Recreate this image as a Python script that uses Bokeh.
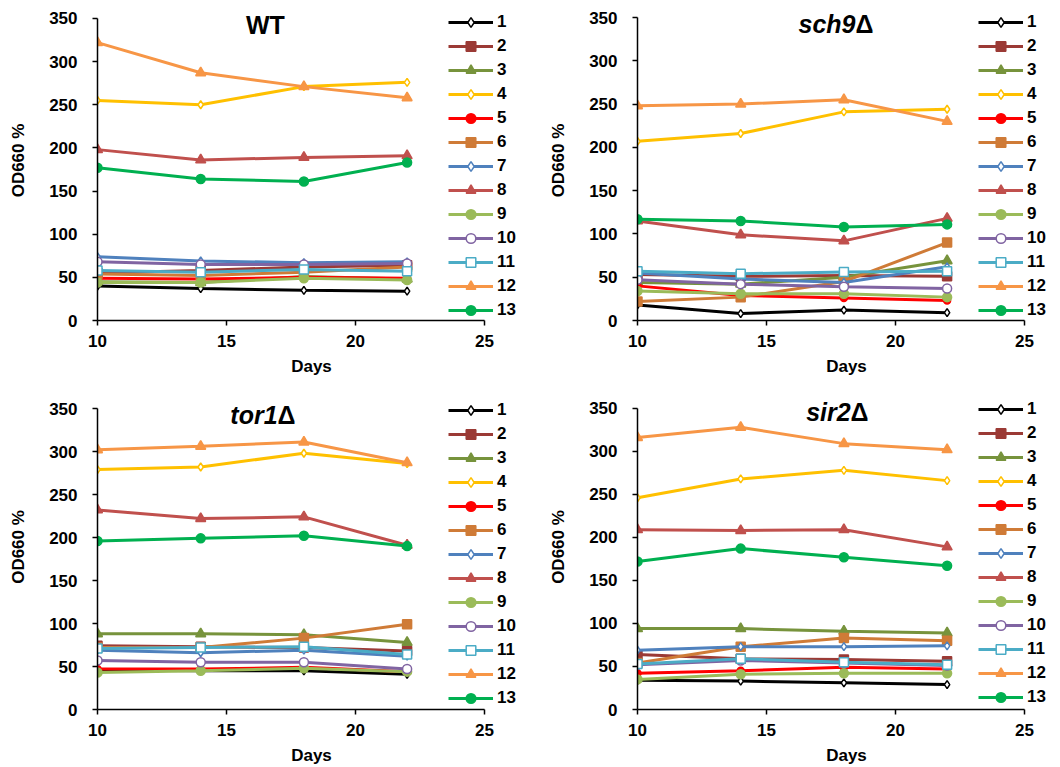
from bokeh.plotting import figure
from bokeh.layouts import column, row
from bokeh.models import Legend, LegendItem, Label, FixedTicker
from bokeh.embed import file_html
from bokeh.resources import INLINE

# Sampling days (x) and strain labels (legend)
days = [10, 14, 18, 22]
strain_labels = ["1", "2", "3", "4", "5", "6", "7", "8", "9", "10", "11", "12", "13"]

# OD660 % per strain (rows follow strain_labels), one table per background
wt = [
    [40, 37, 35, 34],
    [55, 58, 62, 64],
    [45, 44, 51, 48],
    [255, 250, 271, 276],
    [49, 48, 50, 49],
    [54, 52, 56, 62],
    [74, 69, 67, 68],
    [198, 186, 189, 191],
    [44, 44, 49, 47],
    [68, 65, 65, 66],
    [58, 56, 59, 57],
    [322, 287, 271, 258],
    [177, 164, 161, 183],
]
sch9 = [
    [18, 8, 12, 9],
    [53, 51, 52, 51],
    [44, 42, 50, 69],
    [207, 216, 241, 244],
    [40, 29, 26, 23],
    [22, 27, 45, 90],
    [55, 48, 44, 62],
    [115, 99, 92, 118],
    [34, 31, 31, 27],
    [47, 42, 39, 37],
    [57, 54, 56, 57],
    [248, 250, 255, 230],
    [117, 115, 108, 111],
]
tor1 = [
    [46, 45, 45, 41],
    [74, 73, 72, 68],
    [88, 88, 87, 78],
    [279, 282, 298, 286],
    [47, 47, 49, 44],
    [72, 72, 83, 99],
    [69, 66, 69, 62],
    [232, 222, 224, 191],
    [43, 45, 48, 44],
    [57, 55, 55, 47],
    [71, 72, 73, 64],
    [302, 306, 311, 287],
    [196, 199, 202, 190],
]
sir2 = [
    [34, 33, 31, 29],
    [64, 59, 58, 56],
    [94, 94, 91, 89],
    [246, 268, 278, 266],
    [42, 45, 49, 47],
    [54, 73, 83, 80],
    [69, 73, 73, 74],
    [209, 208, 209, 189],
    [35, 41, 42, 42],
    [52, 57, 54, 51],
    [53, 59, 55, 52],
    [316, 328, 309, 302],
    [172, 187, 177, 167],
]

y_ticks = [0, 50, 100, 150, 200, 250, 300, 350]
x_ticks = [10, 15, 20, 25]

# Per-strain line colour, marker, fill and marker size
colors = ["#000000", "#9B3A35", "#77933C", "#FFC000", "#FF0000", "#CF7B37",
          "#4F81BD", "#C0504D", "#9BBB59", "#8064A2", "#4BACC6", "#F79646", "#00B050"]
markers = ["diamond", "square", "triangle", "diamond", "circle", "square",
           "diamond", "triangle", "circle", "circle", "square", "triangle", "circle"]
hollow = [True, False, False, True, False, False, True, False, False, True, True, False, False]
msizes = [8, 9, 10, 8, 7, 9, 8, 10, 9, 9, 9, 10, 9]

FONT = "Liberation Sans"
PX_PER_DAY = 25.8


def make_panel(data, title_main, title_delta, italic, left, bottom, height,
               y_scale, legend_x, legend_y, title_x, title_y):
    width = 530
    right = 5
    frame_w = width - left - right
    frame_h = height - bottom
    x_end = 10 + frame_w / PX_PER_DAY
    y_end = frame_h / y_scale
    p = figure(width=width, height=height, x_range=(10, x_end), y_range=(0, y_end),
               output_backend="svg", toolbar_location=None,
               min_border_left=left, min_border_right=right,
               min_border_top=0, min_border_bottom=bottom)
    p.outline_line_color = None
    p.xgrid.visible = False
    p.ygrid.visible = False
    p.background_fill_color = "white"

    for ax, ticks, bounds in ((p.xaxis[0], x_ticks, (10, 25)), (p.yaxis[0], y_ticks, (0, 350))):
        ax.ticker = FixedTicker(ticks=ticks)
        ax.bounds = bounds
        ax.axis_line_color = "#000000"
        ax.axis_line_width = 1.5
        ax.major_tick_line_color = "#000000"
        ax.major_tick_line_width = 1.5
        ax.major_tick_out = 5
        ax.major_tick_in = 0
        ax.minor_tick_line_color = None
        ax.major_label_text_font = FONT
        ax.major_label_text_font_style = "bold"
        ax.major_label_text_font_size = "17px"
        ax.major_label_text_color = "#000000"
        ax.axis_label_text_font = FONT
        ax.axis_label_text_font_style = "bold"
        ax.axis_label_text_font_size = "17px"
        ax.axis_label_text_color = "#000000"
    p.xaxis.axis_label = "Days"
    p.xaxis.major_label_standoff = 9
    p.xaxis.axis_label_standoff = 7
    p.yaxis.axis_label = "OD660 %"
    p.yaxis.major_label_standoff = 15
    p.yaxis.axis_label_standoff = 18

    items = []
    for name, vals, c, m, h, s in zip(strain_labels, data, colors, markers, hollow, msizes):
        ln = p.line(days, vals, line_color=c, line_width=3)
        sc = p.scatter(days, vals, marker=m, size=s, line_color=c, line_width=1.5,
                       fill_color="white" if h else c)
        items.append(LegendItem(label=name, renderers=[ln, sc]))

    legend = Legend(items=items, location=(legend_x, legend_y))
    legend.background_fill_alpha = 0
    legend.border_line_alpha = 0
    legend.padding = 0
    legend.margin = 0
    legend.spacing = 0
    legend.glyph_width = 45
    legend.glyph_height = 24
    legend.label_height = 24
    legend.label_standoff = 4
    legend.label_text_font = FONT
    legend.label_text_font_style = "bold"
    legend.label_text_font_size = "17px"
    legend.label_text_color = "#000000"
    p.add_layout(legend)

    title_style = dict(text_font=FONT, text_font_size="25px", text_color="#000000")
    if title_delta:
        p.add_layout(Label(x=title_x, y=title_y, text=title_main, text_align="right",
                           text_font_style="bold italic" if italic else "bold", **title_style))
        p.add_layout(Label(x=title_x, y=title_y, text=title_delta, text_align="left",
                           text_font_style="bold", **title_style))
    else:
        p.add_layout(Label(x=title_x, y=title_y, text=title_main, text_align="center",
                           text_font_style="bold", **title_style))
    return p


p_wt = make_panel(wt, "WT", None, False, left=97, bottom=63, height=384,
                  y_scale=303 / 350, legend_x=351, legend_y=-2,
                  title_x=16.51, title_y=325.7)
p_sch9 = make_panel(sch9, "sch9", "Δ", True, left=107, bottom=64, height=384,
                    y_scale=303 / 350, legend_x=341, legend_y=-2,
                    title_x=18.45, title_y=326)
p_tor1 = make_panel(tor1, "tor1", "Δ", True, left=97, bottom=58, height=383,
                    y_scale=301 / 350, legend_x=351, legend_y=-1,
                    title_x=16.98, title_y=325.6)
p_sir2 = make_panel(sir2, "sir2", "Δ", True, left=107, bottom=56, height=383,
                    y_scale=303 / 350, legend_x=341, legend_y=0,
                    title_x=18.26, title_y=329)

layout = column(row(p_wt, p_sch9), row(p_tor1, p_sir2))
open("out.html", "w").write(file_html(layout, INLINE))
